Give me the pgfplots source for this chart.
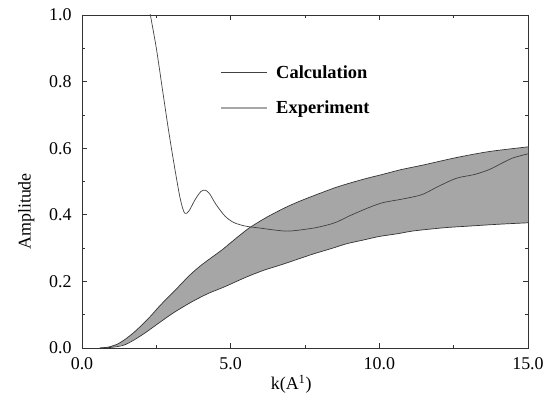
\documentclass[border=0pt]{standalone}
\usepackage{fontspec}
\setmainfont{Liberation Serif}
\usepackage{pgfplots}
\pgfplotsset{compat=1.18}
\usepgfplotslibrary{fillbetween}
\pgfplotsset{legend image code/.code={\draw[#1] (0bp,0bp) -- (46bp,0bp);}}

\begin{document}
\begin{tikzpicture}
\begin{axis}[
  scale only axis,
  width=446bp, height=333bp,
  at={(0,0)}, anchor=south west,
  xmin=0, xmax=15, ymin=0, ymax=1,
  xtick={0,5,10,15}, xticklabels={0.0,5.0,10.0,15.0},
  ytick={0,0.2,0.4,0.6,0.8,1.0}, yticklabels={0.0,0.2,0.4,0.6,0.8,1.0},
  minor x tick num=1, minor y tick num=1,
  xtick pos=both, ytick pos=both,
  tick align=inside,
  major tick length=5bp, minor tick length=3bp,
  axis line style={black!80, line width=0.7pt},
  every tick/.append style={black!80, line width=0.6pt},
  /pgf/number format/assume math mode=true,
  tick label style={font=\fontsize{18}{20}\selectfont, black},
  xticklabel style={yshift=-6bp},
  yticklabel style={xshift=-7bp},
  label style={font=\fontsize{18}{20}\selectfont, black},
  xlabel={k(A\textsuperscript{1})},
  ylabel={Amplitude},
  xlabel style={at={(axis description cs:0.469,-0.108)}, anchor=center},
  ylabel style={at={(axis description cs:-0.125,0.41)}, anchor=center},
  legend style={draw=none, fill=none, at={(axis description cs:0.31,0.855)}, anchor=north west,
    font=\bfseries\fontsize{18.5}{22}\selectfont, row sep=17bp, inner sep=0pt,
    /tikz/every odd column/.append style={column sep=6bp}},
  legend cell align=left,
]
\addplot[name path=upper, draw=none, forget plot] table {
0.6 0
0.9 0.003
1.2 0.012
1.45 0.026
1.75 0.047
2.0 0.068
2.3 0.095
2.6 0.125
2.9 0.153
3.15 0.175
3.45 0.203
3.7 0.225
4.0 0.248
4.3 0.268
4.7 0.294
5.0 0.316
5.3 0.338
5.65 0.362
6.2 0.392
6.8 0.420
7.3 0.440
7.9 0.461
8.5 0.481
9.0 0.495
9.6 0.510
10.1 0.521
10.7 0.535
11.5 0.550
12.6 0.572
13.7 0.590
15.0 0.604
};
\addplot[name path=lower, draw=none, forget plot] table {
0.6 0
1.0 0.002
1.45 0.010
2.0 0.038
2.6 0.076
3.1 0.107
3.7 0.139
4.25 0.164
4.8 0.184
5.5 0.212
6.1 0.233
6.7 0.250
7.3 0.268
7.8 0.283
8.4 0.299
8.9 0.313
9.5 0.325
10.0 0.335
10.6 0.343
11.1 0.351
11.7 0.357
12.3 0.362
13.0 0.366
13.7 0.370
14.3 0.373
15.0 0.376
};
\addplot[fill=black!35, draw=none, forget plot] fill between[of=upper and lower];
\addplot[black!80, line width=0.7pt, smooth, forget plot] table {
0.6 0
0.9 0.003
1.2 0.012
1.45 0.026
1.75 0.047
2.0 0.068
2.3 0.095
2.6 0.125
2.9 0.153
3.15 0.175
3.45 0.203
3.7 0.225
4.0 0.248
4.3 0.268
4.7 0.294
5.0 0.316
5.3 0.338
5.65 0.362
6.2 0.392
6.8 0.420
7.3 0.440
7.9 0.461
8.5 0.481
9.0 0.495
9.6 0.510
10.1 0.521
10.7 0.535
11.5 0.550
12.6 0.572
13.7 0.590
15.0 0.604
};
\addplot[black!80, line width=0.7pt, smooth, forget plot] table {
0.6 0
1.0 0.002
1.45 0.010
2.0 0.038
2.6 0.076
3.1 0.107
3.7 0.139
4.25 0.164
4.8 0.184
5.5 0.212
6.1 0.233
6.7 0.250
7.3 0.268
7.8 0.283
8.4 0.299
8.9 0.313
9.5 0.325
10.0 0.335
10.6 0.343
11.1 0.351
11.7 0.357
12.3 0.362
13.0 0.366
13.7 0.370
14.3 0.373
15.0 0.376
};
\addplot[black!75, line width=0.7pt, smooth, tension=0.5] table {
2.2 1.05
2.3 1.0
2.5 0.9
2.7 0.78
2.9 0.66
3.1 0.55
3.3 0.45
3.45 0.405
3.6 0.412
3.8 0.445
4.0 0.47
4.15 0.474
4.3 0.462
4.5 0.432
4.8 0.397
5.1 0.377
5.5 0.366
6.0 0.36
6.5 0.354
6.9 0.351
7.3 0.354
7.9 0.362
8.5 0.376
9.0 0.397
9.6 0.420
10.1 0.436
10.7 0.446
11.2 0.455
11.5 0.463
12.0 0.486
12.6 0.510
13.2 0.521
13.7 0.536
14.1 0.554
14.5 0.571
15.0 0.583
};
\addlegendentry{Calculation}
\addlegendimage{legend image code/.code={\draw[draw=black!35, line width=1.8pt] (0bp,0bp) -- (46bp,0bp);}}
\addlegendentry{Experiment}
\end{axis}
\path (-82bp,-47bp) rectangle (466bp,348bp);
\end{tikzpicture}
\end{document}
